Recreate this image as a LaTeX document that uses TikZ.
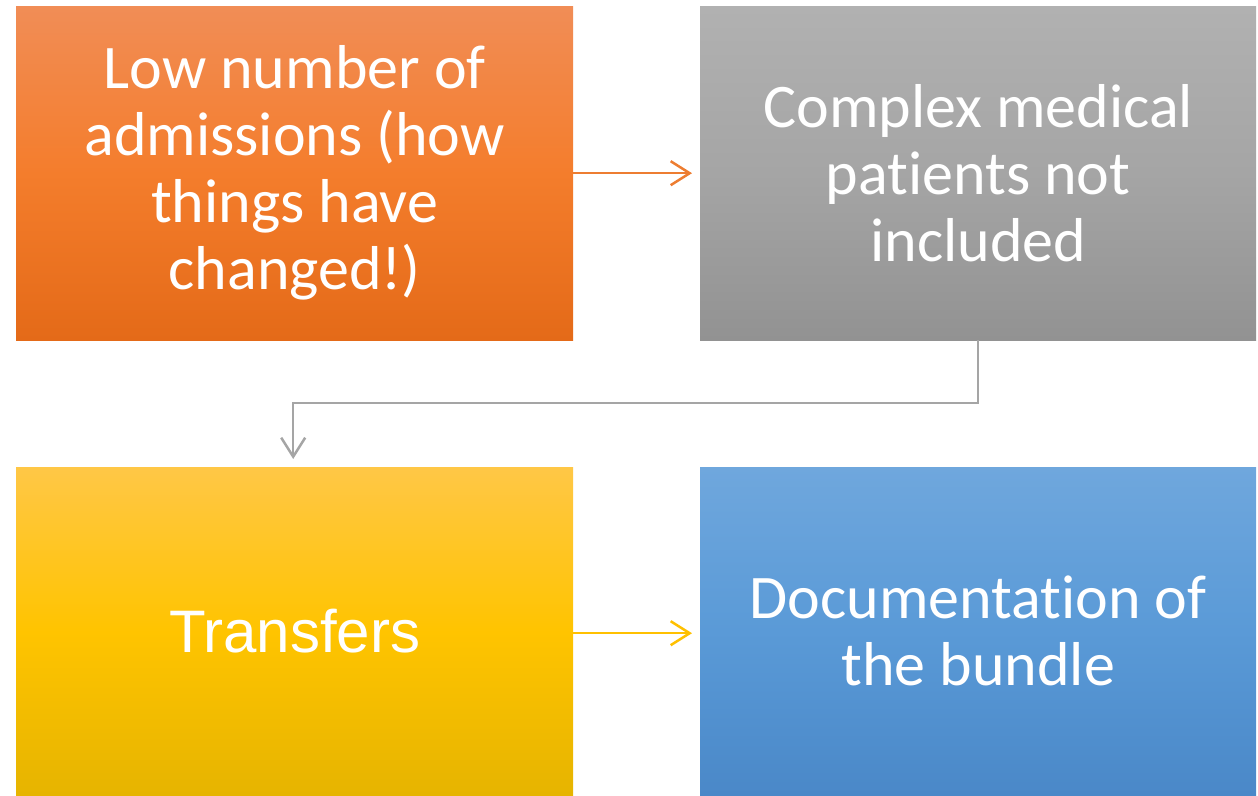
\documentclass[tikz,border=0pt]{standalone}
\usepackage{fontspec}
\setmainfont{Carlito}[Ligatures={NoCommon}]
\newfontfamily\arialfont{Liberation Sans}
\usetikzlibrary{arrows.meta,calc}

\definecolor{orTop}{HTML}{F18D56}
\definecolor{orMid}{HTML}{F47D2C}
\definecolor{orBot}{HTML}{E46A18}
\definecolor{orLine}{HTML}{ED7D31}
\definecolor{grTop}{HTML}{B1B1B1}
\definecolor{grMid}{HTML}{A5A5A5}
\definecolor{grBot}{HTML}{929292}
\definecolor{grLine}{HTML}{A5A5A5}
\definecolor{yeTop}{HTML}{FFC746}
\definecolor{yeMid}{HTML}{FFC400}
\definecolor{yeBot}{HTML}{E6B400}
\definecolor{yeLine}{HTML}{FFC000}
\definecolor{blTop}{HTML}{6FA7DD}
\definecolor{blMid}{HTML}{5A9AD7}
\definecolor{blBot}{HTML}{4A88C8}

\tikzset{
  box/.style={rectangle, inner sep=0pt, anchor=north west, text=white,
    align=center, font=\fontsize{62}{67}\selectfont},
  orangebox/.style={box, top color=orTop, bottom color=orBot, middle color=orMid},
  graybox/.style={box, top color=grTop, bottom color=grBot, middle color=grMid},
  yellowbox/.style={box, top color=yeTop, bottom color=yeBot, middle color=yeMid},
  bluebox/.style={box, top color=blTop, bottom color=blBot, middle color=blMid},
  link/.style={line width=2pt, shorten >=8pt,
    -{Straight Barb[length=19pt,width=24pt,line width=2.5pt]}},
}

\begin{document}
\begin{tikzpicture}[x=1pt,y=-1pt]
  \useasboundingbox (0,0) rectangle (1258,795);

  \node[orangebox, minimum width=557pt, minimum height=334pt] (low) at (16,6)
    {Low number of\\admissions (how\\things have\\changed!)};
  \node[graybox, minimum width=556pt, minimum height=334pt] (complex) at (700,6)
    {Complex medical\\patients not\\included};
  \node[yellowbox, minimum width=557pt, minimum height=328pt, font=\arialfont\fontsize{60}{70}\selectfont] (transfers) at (16,467)
    {Transfers};
  \node[bluebox, minimum width=556pt, minimum height=328pt] (doc) at (700,467)
    {Documentation of\\the bundle};

  \draw[link, orLine] (low.east) -- (complex.west);
  \draw[link, grLine] (complex.south) -- ++(0,63) coordinate (bend)
    -| ($(transfers.north)+(-1.5,0)$);
  \draw[link, yeLine] ($(transfers.east)+(0,2)$) -- ($(doc.west)+(0,2)$);
\end{tikzpicture}
\end{document}
